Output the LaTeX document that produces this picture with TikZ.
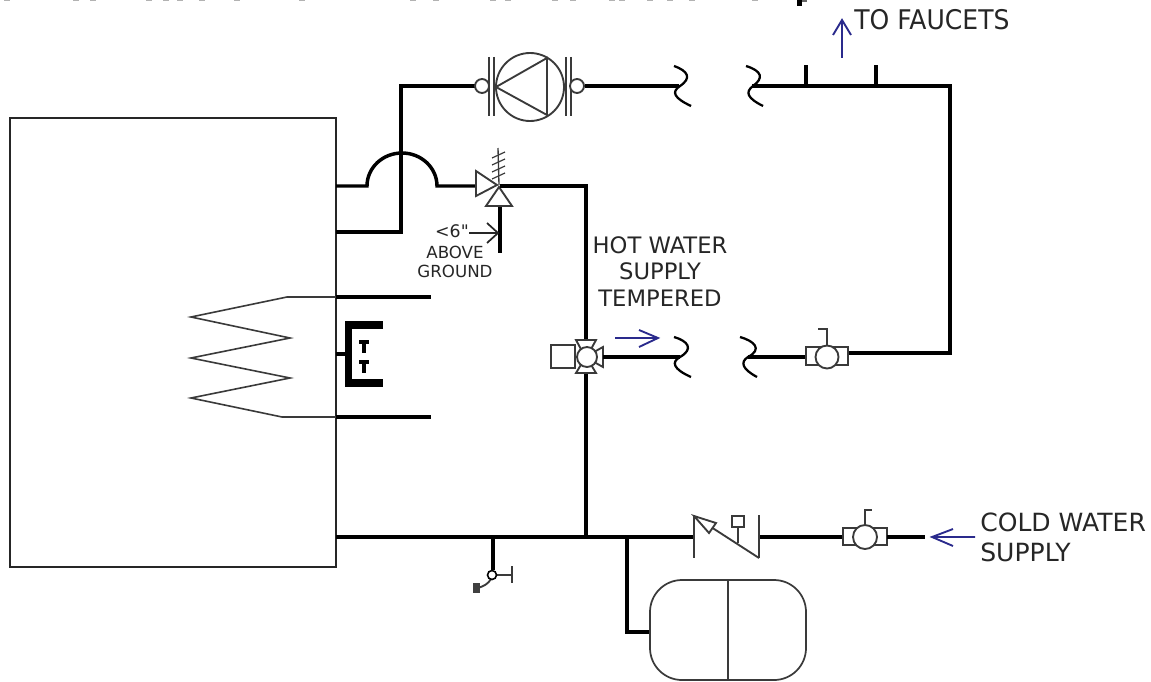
\documentclass[tikz,border=0pt]{standalone}
\usepackage{fontspec}
\setmainfont{DejaVu Sans}
\newfontfamily\plainf{DejaVu Sans}
\definecolor{navyarrow}{HTML}{2A2A8C}
\definecolor{sym}{HTML}{3A3A3A}
\tikzset{
  pipe/.style={line width=2.6pt,black,line join=miter},
  thinsym/.style={line width=1.4pt,sym},
  brk/.style={line width=1.7pt,black},
  flow/.style={line width=1.4pt,navyarrow},
  lab/.style={font=\fontsize{17}{20}\selectfont,text=black!85,align=center,inner sep=0pt},
  biglab/.style={font=\fontsize{18.8}{22.5}\selectfont,text=black!85,inner sep=0pt},
  smalllab/.style={font=\fontsize{12.5}{14}\selectfont,text=black!85,align=center,inner sep=0pt},
  ringsym/.style={circle,draw=sym,fill=white,line width=1.4pt,inner sep=0pt},
}
\begin{document}
\begin{tikzpicture}[x=0.75pt,y=-0.75pt]
\useasboundingbox (0,0) rectangle (1151,681);
% clipped title remnants
\foreach \xx in {7,76,93,149,166,180,202,237,302,413,436,493,508,555,573,612,622,650,670,692,755}{
  \fill[black!30] (\xx-3,0) rectangle (\xx+3,1.2);
}
\fill[black] (797,0) rectangle (802,6);
\fill[black!60] (802,0) rectangle (807,1.6);
% heater
\node[draw=black!85,line width=1.5pt,outer sep=0pt,anchor=north west,rectangle,inner sep=0pt,minimum height=449*0.75pt,minimum width=326*0.75pt] (tank) at (10,118) {};
% pipes to heater
\coordinate (a1) at (336,186);
\coordinate (a2) at (367,186);
\coordinate (a4) at (476,186);
\draw[pipe] (a1) -- (a2) arc[start angle=180,end angle=0,x radius=35*0.75pt,y radius=33*0.75pt] -- (a4);
\draw[pipe] (336,232) -- (401,232) -- (401,86) -- (478,86);
% pump
\node[ringsym,minimum size=68*0.75pt] (pump) at (530,87) {};
\draw[thinsym] (496,87) -- (547,58) -- (547,115) -- cycle;
\draw[thinsym] (489,57) -- (489,116) (494,57) -- (494,116);
\draw[thinsym] (566,57) -- (566,116) (571,57) -- (571,116);
\node[ringsym,minimum size=14*0.75pt] (fl) at (482,86) {};
\node[ringsym,minimum size=14*0.75pt] (fr) at (577,86) {};
\draw[pipe] (fr) -- (679,86);
\draw[brk] (674,66) .. controls (688,71) and (692,78) .. (680,86) .. controls (671,92) and (674,98) .. (691,106);
\draw[brk] (746,66) .. controls (762,71) and (764,78) .. (753,86) .. controls (745,92) and (747,98) .. (763,106);
\draw[pipe] (752,86) -- (950,86) -- (950,353) -- (848,353);
\draw[pipe] (806,86) -- (806,65) (876,86) -- (876,65);
% to faucets
\draw[flow] (842,58) -- (842,20) (833,35) -- (842,20) -- (851,35);
\node[biglab,anchor=west] (tf) at (854,20) {\scalebox{1}[1.08]{TO FAUCETS}};
% relief valve
\draw[thinsym] (476,171) -- (497,185) -- (476,196) -- cycle;
\draw[thinsym] (499,187) -- (486,206) -- (512,206) -- cycle;
\draw[thinsym,line width=1pt] (499,185) -- (498,148);
\foreach \yy in {155,162,169,176}{\draw[sym,line width=0.9pt] (492,\yy+3) -- (505,\yy-3);}
\draw[pipe] (500,186) -- (586,186) -- (586,340);
\draw[pipe] (586,373) -- (586,537);
\draw[pipe] (500,207) -- (500,253);
\draw[line width=1.3pt,black!85] (469,233) -- (497,233) (487,223) -- (498,233) -- (487,243);
\node[smalllab,anchor=east,font=\plainf\fontsize{13}{14}\selectfont] (six) at (469,231) {<6"};
\node[smalllab,anchor=north] (ag) at (455,246) {ABOVE\\GROUND};
% burner
\draw[line width=1.2pt,sym] (336,297) -- (287,297) -- (191,317) -- (290,338) -- (191,358) -- (290,378) -- (191,398) -- (282,417) -- (336,417);
\draw[pipe] (336,297) -- (431,297) (336,417) -- (431,417);
\draw[line width=2.4pt] (336,354) -- (348,354);
\draw[line width=5.5pt] (383,325) -- (348.5,325) -- (348.5,383) -- (383,383);
\foreach \yy in {342,362}{
 \draw[line width=2.8pt] (364,\yy) -- (364,\yy+11);
 \draw[line width=2.6pt] (359,\yy) -- (369,\yy);
}
% labels
\node[lab,anchor=north] (hw) at (660,236) {HOT WATER\\SUPPLY\\TEMPERED};
\draw[flow] (615,338) -- (658,338) (639,330) -- (658,338) -- (639,347);
% mixing valve
\draw[thinsym] (551,345) rectangle (575,368);
\coordinate (act) at (563,357);
\draw[thinsym] (576,340) -- (596,340) -- (590,351) -- (582,351) -- cycle;
\draw[thinsym] (576,373) -- (596,373) -- (590,363) -- (582,363) -- cycle;
\draw[thinsym] (603,347) -- (603,367) -- (594,362) -- (594,352) -- cycle;
\node[ringsym,minimum size=20*0.75pt] (mv) at (587,357) {};
\draw[pipe] (603,357) -- (680,357);
\draw[brk] (674,337) .. controls (688,341) and (694,349) .. (680,357) .. controls (671,362) and (673,369) .. (691,377);
\draw[brk] (740,337) .. controls (754,341) and (763,349) .. (748,357) .. controls (740,362) and (742,369) .. (757,377);
\draw[pipe] (748,357) -- (806,357);
% ball valve upper
\draw[thinsym] (806,347) rectangle (848,365);
\node[ringsym,minimum size=23*0.75pt] (bv1) at (827,357) {};
\draw[thinsym] (bv1.north) -- (827,329) -- (818,329);
% bottom main
\draw[pipe] (336,537) -- (694,537);
\draw[thinsym] (694,515) -- (694,558) (759,515) -- (759,558);
\draw[thinsym] (694,516) -- (759,558);
\draw[thinsym,fill=white] (694,516) -- (716,523) -- (709,533) -- cycle;
\draw[thinsym] (732,516) rectangle (744,527);
\draw[thinsym] (738,527) -- (738,543);
\draw[pipe] (760,537) -- (843,537);
\draw[thinsym] (843,528) rectangle (887,545);
\node[ringsym,minimum size=24*0.75pt] (bv2) at (865,537) {};
\draw[thinsym] (bv2.north) -- (865,510) -- (872,510);
\draw[pipe] (887,537) -- (925,537);
\draw[flow] (975,537) -- (932,537) (953,529) -- (932,537) -- (953,546);
\node[biglab,anchor=north west,align=left] (cw) at (980,513) {COLD WATER\\SUPPLY};
% drain
\draw[pipe] (493,537) -- (493,570);
\draw[thinsym] (497,575) -- (512,575) (512,566) -- (512,583);
\draw[thinsym] (491,579) .. controls (488,584) and (484,586) .. (478,588);
\node[circle,draw=black,fill=white,line width=1.2pt,inner sep=0pt,minimum size=9*0.75pt] (dr) at (492,575) {};
\fill[black!75] (473,583) rectangle (480,593);
% expansion tank
\draw[pipe] (627,537) -- (627,632) -- (650,632);
\draw[line width=1.3pt,sym,rounded corners=32*0.75pt] (650,580) rectangle (806,680);
\draw[line width=1.2pt,sym] (728,580) -- (728,680);
\end{tikzpicture}
\end{document}
